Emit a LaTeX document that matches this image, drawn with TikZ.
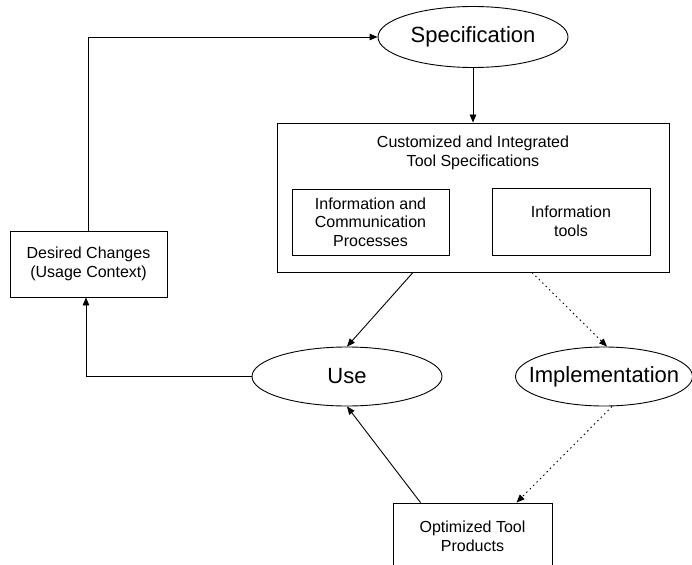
\documentclass[tikz,border=0pt]{standalone}
\usepackage{fontspec}
\setmainfont{Liberation Sans}
\usetikzlibrary{shapes.geometric,arrows.meta}
\tikzset{
  small/.style={font=\fontsize{16}{18.5}\selectfont, align=center},
  big/.style={font=\fontsize{22}{26}\selectfont},
  box/.style={draw, line width=0.9pt, rectangle, inner sep=0pt, small},
  oval/.style={draw, line width=0.9pt, ellipse, inner sep=0pt, big},
  conn/.style={line width=0.9pt, -{Triangle[length=8pt,width=6.5pt]}},
  dotconn/.style={conn, dash pattern=on 1.5pt off 3.3pt},
}
\begin{document}
\begin{tikzpicture}[x=1pt,y=1pt]
\clip (0,0) rectangle (692,-564);
\fill[white] (0,0) rectangle (692,-564);
% nodes
\node[oval, minimum width=190pt, minimum height=61pt] (spec) at (473,-37) {Specification};
\node[box, minimum width=392pt, minimum height=149pt] (cust) at (473,-197.5) {};
\node[small] (title) at (473,-153) {Customized and Integrated\\Tool Specifications};
\node[box, minimum width=157pt, minimum height=66pt] (icp) at (370.5,-222) {Information and\\Communication\\Processes};
\node[box, minimum width=158pt, minimum height=67pt] (itools) at (571,-221.5) {Information\\tools};
\node[box, minimum width=157pt, minimum height=66pt] (desired) at (88.5,-264) {Desired Changes\\(Usage Context)};
\node[oval, minimum width=190pt, minimum height=59pt] (use) at (347,-376.5) {Use};
\node[oval, inner xsep=-20pt, minimum width=177pt, minimum height=59pt] (impl) at (604,-376.5) {Implementation};
\node[box, minimum width=159pt, minimum height=67pt] (opt) at (472.5,-536.5) {Optimized Tool\\Products};
% connectors
\draw[conn] (desired.north) |- (spec.west);
\draw[conn] (spec.south) -- (cust.north);
\draw[conn] ([xshift=-60pt]cust.south) -- (use.north);
\draw[dotconn] ([xshift=59pt]cust.south) -- ([xshift=3pt]impl.north);
\draw[dotconn] ([xshift=8pt]impl.south) -- ([xshift=44pt]opt.north);
\draw[conn] ([xshift=-52pt]opt.north) -- (use.south);
\draw[conn] (use.west) -| ([xshift=-2.5pt]desired.south);
\end{tikzpicture}
\end{document}
